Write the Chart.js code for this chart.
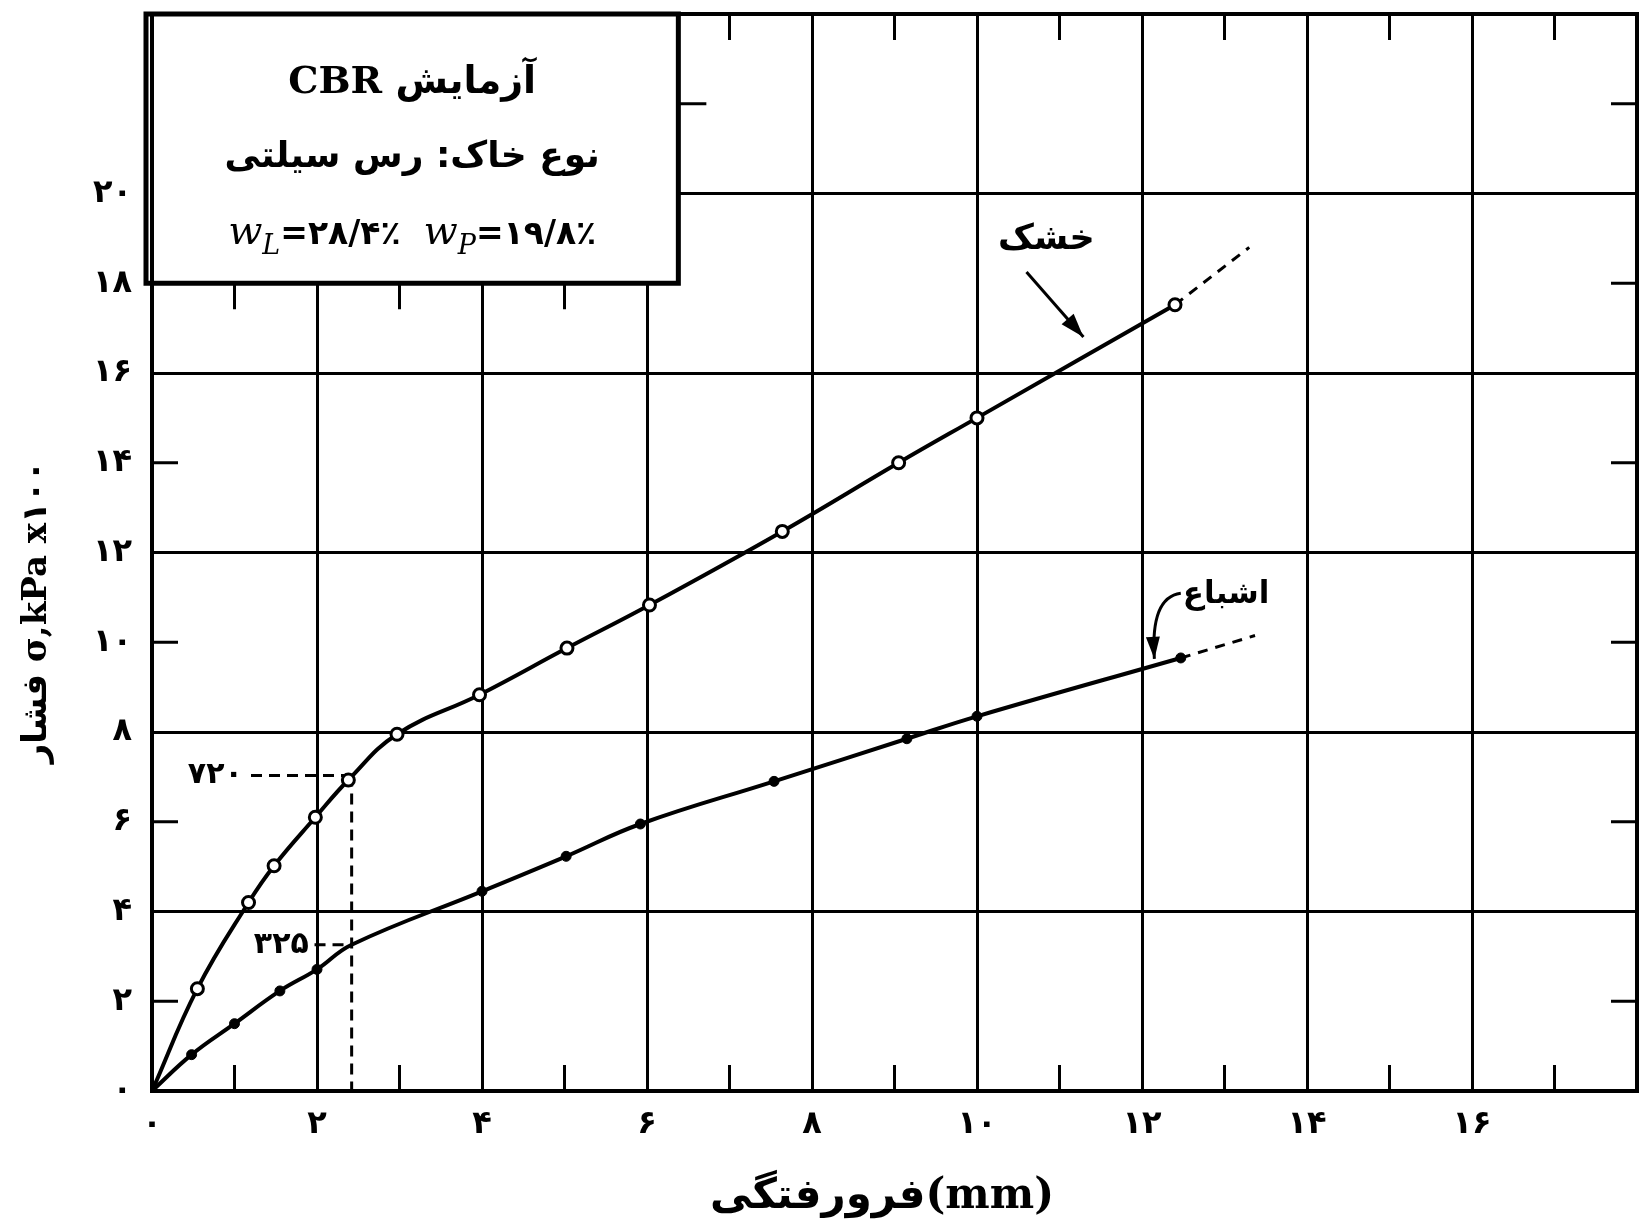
<!DOCTYPE html>
<html>
<head>
<meta charset="utf-8">
<title>CBR</title>
<script src="https://cdn.jsdelivr.net/npm/chart.js@4.4.1/dist/chart.umd.min.js"></script>
<style>
  html, body { margin: 0; padding: 0; background: #fff; }
</style>
</head>
<body>
<canvas id="cbr-chart" width="1648" height="1225"></canvas>
<script>
// Start data
const xTickLabels = ['۰', '۲', '۴', '۶', '۸', '۱۰', '۱۲', '۱۴', '۱۶']
const yTickLabels = ['۰', '۲', '۴', '۶', '۸', '۱۰', '۱۲', '۱۴', '۱۶', '۱۸', '۲۰']

// penetration (mm) / stress (kPa x 100)
const dryPenetration = [0, 0.55, 1.17, 1.48, 1.98, 2.38, 2.97, 3.97, 5.03, 6.03, 7.64, 9.05, 10.0, 12.4]
const dryStress      = [0, 2.28, 4.2, 5.02, 6.1, 6.93, 7.95, 8.83, 9.87, 10.83, 12.47, 14.0, 15.0, 17.52]
const dryTailPenetration = [12.4, 13.3]
const dryTailStress      = [17.52, 18.8]

const satPenetration = [0, 0.48, 1.0, 1.55, 2.0, 2.42, 4.0, 5.02, 5.92, 7.54, 9.15, 10.0, 12.47]
const satStress      = [0, 0.81, 1.5, 2.23, 2.71, 3.26, 4.45, 5.23, 5.95, 6.9, 7.85, 8.35, 9.65]
const satTailPenetration = [12.47, 13.37]
const satTailStress      = [9.65, 10.15]

const refPenetration = 2.42
const refStress = [7.03, 3.26]
const refLabels = ['۷۲۰', '۳۲۵']

const boxLines = ['آزمایش CBR', 'نوع خاک: رس سیلتی']
const limits = [['L', '=۲۸/۴٪'], ['P', '=۱۹/۸٪']]
// End data

const FA = '"DejaVu Sans"'
const SERIF = '"DejaVu Serif", "DejaVu Sans"'

function toPoints(xs, ys){
  return xs.map(function(v, i){ return {x: v, y: ys[i]} })
}

function arrowHead(ctx, fromX, fromY, toX, toY, len, half){
  const ang = Math.atan2(toY - fromY, toX - fromX)
  ctx.beginPath()
  ctx.moveTo(toX, toY)
  ctx.lineTo(toX - len * Math.cos(ang) + half * Math.sin(ang), toY - len * Math.sin(ang) - half * Math.cos(ang))
  ctx.lineTo(toX - len * Math.cos(ang) - half * Math.sin(ang), toY - len * Math.sin(ang) + half * Math.cos(ang))
  ctx.closePath()
  ctx.fill()
}

function noPad(s){
  s.paddingTop = 0
  s.paddingBottom = 0
  s.paddingLeft = 0
  s.paddingRight = 0
}

const frame = {
  id: 'frame',
  beforeDatasetsDraw(chart){
    const {ctx, chartArea: a, scales: {x, y}} = chart
    ctx.save()
    ctx.strokeStyle = '#000'
    ctx.fillStyle = '#000'

    // dashed reading lines (720 / 325)
    const rx = x.getPixelForValue(refPenetration)
    ctx.lineWidth = 3
    ctx.setLineDash([11, 7])
    ctx.beginPath()
    ctx.moveTo(x.getPixelForValue(1.2), y.getPixelForValue(refStress[0]))
    ctx.lineTo(rx, y.getPixelForValue(refStress[0]))
    ctx.moveTo(rx, y.getPixelForValue(refStress[0]))
    ctx.lineTo(rx, a.bottom)
    ctx.moveTo(x.getPixelForValue(1.97), y.getPixelForValue(refStress[1]))
    ctx.lineTo(rx, y.getPixelForValue(refStress[1]))
    ctx.stroke()
    ctx.setLineDash([])

    // inner ticks
    const tl = 26
    ctx.lineWidth = 3
    ctx.beginPath()
    ;[1, 3, 5, 7, 9, 11, 13, 15, 17].forEach(function(v){
      const px = x.getPixelForValue(v)
      ctx.moveTo(px, a.bottom); ctx.lineTo(px, a.bottom - tl)
    })
    ;[7, 9, 11, 13, 15, 17].forEach(function(v){
      const px = x.getPixelForValue(v)
      ctx.moveTo(px, a.top); ctx.lineTo(px, a.top + tl)
    })
    ;[1, 3, 5].forEach(function(v){
      const px = x.getPixelForValue(v)
      ctx.moveTo(px, y.getPixelForValue(18)); ctx.lineTo(px, y.getPixelForValue(18) + tl)
    })
    ;[2, 6, 10, 14].forEach(function(v){
      const py = y.getPixelForValue(v)
      ctx.moveTo(a.left, py); ctx.lineTo(a.left + tl, py)
    })
    ;[2, 6, 10, 14, 18, 22].forEach(function(v){
      const py = y.getPixelForValue(v)
      ctx.moveTo(a.right, py); ctx.lineTo(a.right - tl, py)
    })
    ctx.stroke()

    // info box
    const bx0 = a.left - 6, by0 = a.top
    const bx1 = x.getPixelForValue(6.38), by1 = y.getPixelForValue(18)
    ctx.fillStyle = '#fff'
    ctx.fillRect(bx0, by0, bx1 - bx0, by1 - by0)
    ctx.fillStyle = '#000'
    ctx.lineWidth = 5
    ctx.strokeRect(bx0, by0, bx1 - bx0, by1 - by0)
    ctx.lineWidth = 3
    ctx.beginPath()
    ctx.moveTo(bx1, y.getPixelForValue(22)); ctx.lineTo(bx1 + 28, y.getPixelForValue(22))
    ctx.stroke()

    const cx = (bx0 + bx1) / 2
    ctx.textAlign = 'center'
    ctx.textBaseline = 'middle'
    ctx.direction = 'rtl'
    ctx.font = 'bold 38px ' + SERIF
    ctx.fillText(boxLines[0], cx, y.getPixelForValue(22.45))
    ctx.font = 'bold 36px ' + FA
    ctx.fillText(boxLines[1], cx, y.getPixelForValue(20.8))
    ctx.direction = 'ltr'

    // wL / wP line
    const ly = y.getPixelForValue(19.12)
    const parts = []
    limits.forEach(function(l, i){
      parts.push({t: 'w', f: 'italic 40px ' + SERIF, dy: 0})
      parts.push({t: l[0], f: 'italic 27px ' + SERIF, dy: 10})
      parts.push({t: l[1], f: 'bold 33px ' + FA, dy: 0})
      if (i === 0) parts.push({t: '  ', f: 'bold 33px ' + FA, dy: 0})
    })
    let total = 0
    parts.forEach(function(p){ ctx.font = p.f; p.w = ctx.measureText(p.t).width; total += p.w })
    let px = cx - total / 2
    ctx.textAlign = 'left'
    ctx.textBaseline = 'alphabetic'
    parts.forEach(function(p){
      ctx.font = p.f
      ctx.fillText(p.t, px, ly + 11 + p.dy)
      px += p.w
    })

    // frame
    ctx.lineWidth = 4
    ctx.strokeRect(a.left, a.top, a.right - a.left, a.bottom - a.top)
    ctx.restore()
  },
  afterDatasetsDraw(chart){
    const {ctx, scales: {x, y}} = chart
    ctx.save()
    ctx.fillStyle = '#000'
    ctx.strokeStyle = '#000'

    // reading labels
    ctx.font = 'bold 30px ' + FA
    ctx.textAlign = 'right'
    ctx.textBaseline = 'middle'
    ctx.fillText(refLabels[0], x.getPixelForValue(1.1), y.getPixelForValue(refStress[0]))
    ctx.fillText(refLabels[1], x.getPixelForValue(1.9), y.getPixelForValue(refStress[1]))

    // curve names
    ctx.textAlign = 'center'
    ctx.font = 'bold 35px ' + FA
    ctx.fillText('خشک', x.getPixelForValue(10.84), y.getPixelForValue(18.97))
    ctx.font = 'bold 31px ' + FA
    ctx.fillText('اشباع', x.getPixelForValue(13.02), y.getPixelForValue(11.05))

    // arrow to dry curve
    ctx.lineWidth = 3
    const d0x = x.getPixelForValue(10.6), d0y = y.getPixelForValue(18.25)
    const d1x = x.getPixelForValue(11.29), d1y = y.getPixelForValue(16.8)
    ctx.beginPath(); ctx.moveTo(d0x, d0y); ctx.lineTo(d1x, d1y); ctx.stroke()
    arrowHead(ctx, d0x, d0y, d1x, d1y, 24, 8)

    // curved arrow to saturated curve
    const s0x = x.getPixelForValue(12.47), s0y = y.getPixelForValue(11.09)
    const scx = x.getPixelForValue(12.1), scy = y.getPixelForValue(11.0)
    const s1x = x.getPixelForValue(12.15), s1y = y.getPixelForValue(9.63)
    ctx.beginPath(); ctx.moveTo(s0x, s0y); ctx.quadraticCurveTo(scx, scy, s1x, s1y); ctx.stroke()
    arrowHead(ctx, scx, scy, s1x, s1y, 22, 7)

    // axis titles
    ctx.textAlign = 'center'
    ctx.textBaseline = 'alphabetic'
    ctx.font = 'bold 42px ' + SERIF
    ctx.fillText('فرورفتگی(mm)', 882, 1208)

    ctx.translate(46, 612)
    ctx.rotate(-Math.PI / 2)
    ctx.font = 'bold 34px ' + SERIF
    ctx.fillText('فشار σ,kPa x۱۰۰', 0, 0)
    ctx.restore()
  }
}

const chartEl = document.getElementById('cbr-chart')
new Chart(chartEl, {
  type: 'scatter',
  data: {
    datasets: [
      {
        label: 'خشک',
        data: toPoints(dryPenetration, dryStress),
        showLine: true,
        borderColor: '#000',
        borderWidth: 4,
        tension: 0.42,
        pointRadius: function(c){ return c.dataIndex === 0 ? 0 : 6 },
        pointBackgroundColor: '#fff',
        pointBorderColor: '#000',
        pointBorderWidth: 3
      },
      {
        label: 'خشک (ادامه)',
        data: toPoints(dryTailPenetration, dryTailStress),
        showLine: true,
        borderColor: '#000',
        borderWidth: 3,
        borderDash: [10, 8],
        pointRadius: 0
      },
      {
        label: 'اشباع',
        data: toPoints(satPenetration, satStress),
        showLine: true,
        borderColor: '#000',
        borderWidth: 4,
        tension: 0.42,
        pointRadius: function(c){
          const v = satPenetration[c.dataIndex]
          return (v === 0 || v === refPenetration) ? 0 : 5
        },
        pointBackgroundColor: '#000',
        pointBorderColor: '#000',
        pointBorderWidth: 1
      },
      {
        label: 'اشباع (ادامه)',
        data: toPoints(satTailPenetration, satTailStress),
        showLine: true,
        borderColor: '#000',
        borderWidth: 3,
        borderDash: [10, 8],
        pointRadius: 0
      }
    ]
  },
  options: {
    responsive: false,
    animation: false,
    layout: { padding: { top: 14, right: 11, left: 0, bottom: 0 } },
    plugins: {
      legend: { display: false },
      tooltip: { enabled: false }
    },
    scales: {
      x: {
        type: 'linear',
        min: 0,
        max: 18,
        afterFit: function(s){ s.height = 134; noPad(s) },
        border: { display: false },
        grid: {
          drawTicks: false,
          lineWidth: 3,
          color: function(c){
            const v = c.tick.value
            return (v > 0 && v < 18) ? '#000' : 'rgba(0,0,0,0)'
          }
        },
        ticks: {
          stepSize: 2,
          padding: 14,
          maxRotation: 0,
          color: '#000',
          font: { family: 'DejaVu Sans', size: 32, weight: 'bold' },
          callback: function(v, i){ return xTickLabels[i] || '' }
        }
      },
      y: {
        type: 'linear',
        min: 0,
        max: 24,
        afterFit: function(s){ s.width = 152; noPad(s) },
        border: { display: false },
        grid: {
          drawTicks: false,
          lineWidth: 3,
          color: function(c){
            const v = c.tick.value
            return (v > 0 && v < 24 && v % 4 === 0) ? '#000' : 'rgba(0,0,0,0)'
          }
        },
        ticks: {
          stepSize: 2,
          padding: 20,
          color: '#000',
          font: { family: 'DejaVu Sans', size: 32, weight: 'bold' },
          callback: function(v, i){ return yTickLabels[i] || '' }
        }
      }
    }
  },
  plugins: [frame]
})
</script>
</body>
</html>
